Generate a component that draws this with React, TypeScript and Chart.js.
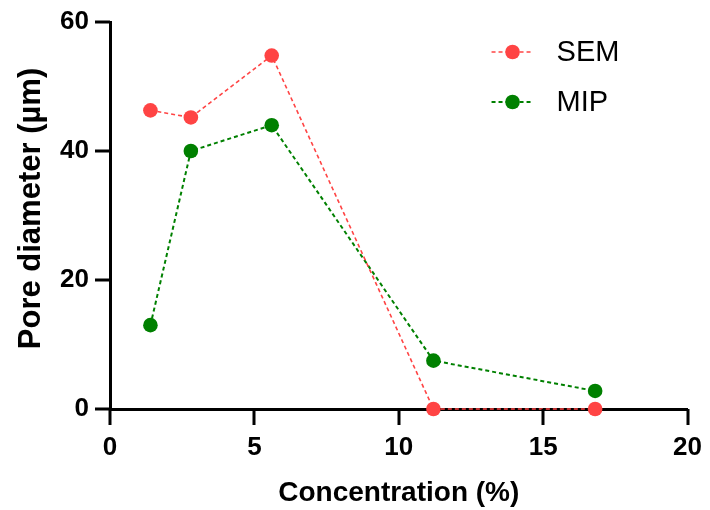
import React, { useEffect, useRef } from "react";
import { Chart, registerables } from "chart.js";

Chart.register(...registerables);

const concentration = [1.4, 2.8, 5.6, 11.2, 16.8];
const semValues = [46.3, 45.2, 54.8, 0, 0];
const mipValues = [13, 40, 44, 7.5, 2.8];
const seriesNames = ["SEM", "MIP"];
const seriesColors = ["rgb(255,68,68)", "rgb(0,128,0)"];
const xTitle = "Concentration (%)";
const yTitle = "Pore diameter (µm)";

const FONT = "'Liberation Sans', Arial, Helvetica, sans-serif";

const ticksPlugin = {
  id: "outerTicks",
  afterDraw(chart: any) {
    const ctx = chart.ctx;
    const area = chart.chartArea;
    const xs = chart.scales.x;
    const ys = chart.scales.y;
    ctx.save();
    ctx.setLineDash([]);
    ctx.fillStyle = "#000";
    xs.ticks.forEach((t: any) => {
      const px = Math.round(xs.getPixelForValue(t.value));
      ctx.fillRect(px - 1.5, area.bottom, 3, 16);
    });
    ys.ticks.forEach((t: any) => {
      const py = Math.round(ys.getPixelForValue(t.value));
      ctx.fillRect(area.left - 15, py - 1.5, 15, 3);
    });
    // y title
    ctx.font = `bold 31px ${FONT}`;
    ctx.textAlign = "center";
    ctx.textBaseline = "middle";
    ctx.translate(31, (area.top + area.bottom) / 2 - 7);
    ctx.rotate(-Math.PI / 2);
    ctx.fillText(yTitle, 0, 0);
    ctx.restore();
  },
};

const legendPlugin = {
  id: "customLegend",
  afterDatasetsDraw(chart: any) {
    const ctx = chart.ctx;
    const area = chart.chartArea;
    const x0 = area.right - 196;
    const y0 = area.top + 30;
    const gap = 50;
    chart.data.datasets.forEach((ds: any, i: number) => {
      const y = y0 + i * gap;
      ctx.save();
      ctx.strokeStyle = ds.borderColor;
      ctx.lineWidth = ds.borderWidth;
      ctx.setLineDash([4, 3]);
      ctx.beginPath();
      ctx.moveTo(x0, y);
      ctx.lineTo(x0 + 41, y);
      ctx.stroke();
      ctx.setLineDash([]);
      ctx.fillStyle = ds.backgroundColor;
      ctx.beginPath();
      ctx.arc(x0 + 21, y, 7.3, 0, Math.PI * 2);
      ctx.fill();
      ctx.fillStyle = "#000";
      ctx.font = `29px ${FONT}`;
      ctx.textAlign = "left";
      ctx.textBaseline = "middle";
      ctx.fillText(ds.label, x0 + 65, y + 1);
      ctx.restore();
    });
  },
};

export default function App() {
  const ref = useRef<HTMLCanvasElement | null>(null);
  useEffect(() => {
    if (!ref.current) return;
    const mk = (vals: number[]) => vals.map((v, i) => ({ x: concentration[i], y: v }));
    const gridOpts = {
      display: true,
      drawOnChartArea: false,
      drawTicks: true,
      tickLength: 15,
      tickWidth: 0,
      tickColor: "rgba(0,0,0,0)",
      lineWidth: 0,
      color: "rgba(0,0,0,0)",
    };
    const chart = new Chart(ref.current, {
      type: "line",
      data: {
        datasets: [
          {
            label: seriesNames[0],
            data: mk(semValues),
            borderColor: seriesColors[0],
            backgroundColor: seriesColors[0],
            borderWidth: 1.6,
            borderDash: [4, 3],
            pointRadius: 7.3,
            pointBorderWidth: 0,
            pointHoverRadius: 7.3,
            clip: false as any,
          },
          {
            label: seriesNames[1],
            data: mk(mipValues),
            borderColor: seriesColors[1],
            backgroundColor: seriesColors[1],
            borderWidth: 2,
            borderDash: [4, 3],
            pointRadius: 7.3,
            pointBorderWidth: 0,
            pointHoverRadius: 7.3,
            clip: false as any,
          },
        ],
      },
      options: {
        animation: false,
        responsive: false,
        maintainAspectRatio: false,
        layout: { padding: { top: 22, right: 22, left: 0, bottom: 0 } },
        plugins: { legend: { display: false }, tooltip: { enabled: false } },
        scales: {
          x: {
            type: "linear",
            min: 0,
            max: 20,
            ticks: {
              stepSize: 5,
              color: "#000",
              font: { family: FONT, size: 26, weight: "bold" },
              padding: 8,
              maxRotation: 0,
            },
            grid: gridOpts as any,
            border: { display: true, color: "#000", width: 3 },
            title: {
              display: true,
              text: xTitle,
              color: "#000",
              font: { family: FONT, size: 28, weight: "bold" },
              padding: { top: 0, bottom: 0 },
            },
            afterFit: (s: any) => {
              s.height = 101;
            },
          },
          y: {
            type: "linear",
            min: 0,
            max: 60,
            ticks: {
              stepSize: 20,
              color: "#000",
              font: { family: FONT, size: 26, weight: "bold" },
              padding: 6,
            },
            grid: gridOpts as any,
            border: { display: true, color: "#000", width: 3 },
            title: { display: false },
            afterFit: (s: any) => {
              s.width = 110;
            },
          },
        },
      },
      plugins: [ticksPlugin, legendPlugin],
    });
    return () => chart.destroy();
  }, []);
  return (
    <div style={{ position: "fixed", left: 0, top: 0, width: 710, height: 510, background: "#fff" }}>
      <canvas ref={ref} width={710} height={510} style={{ width: 710, height: 510, display: "block" }} />
    </div>
  );
}
